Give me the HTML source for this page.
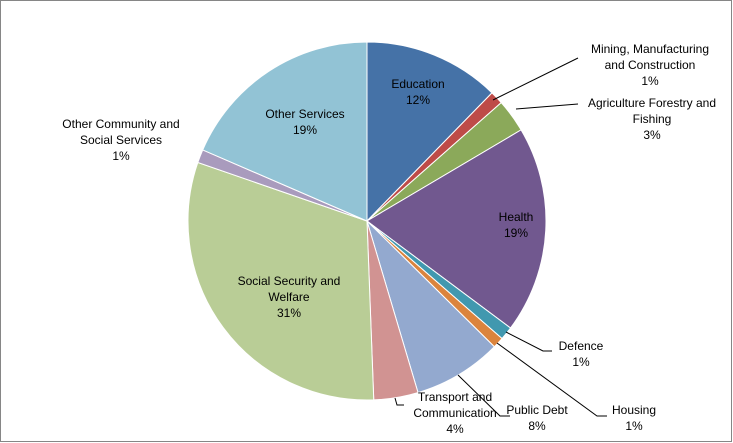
<!DOCTYPE html>
<html><head><meta charset="utf-8"><style>
html,body{margin:0;padding:0;background:#fff}
svg{display:block;font-family:"Liberation Sans",Arial,sans-serif;font-size:12px}
</style></head><body>
<svg id="chart" width="733" height="443" viewBox="0 0 733 443">
<rect x="0.5" y="0.5" width="731" height="441" fill="#fff" stroke="#868686"/>
<g id="slices"></g>
<g id="leaders" stroke="#000" stroke-width="1" fill="none"></g>
<g id="labels" fill="#000" text-anchor="middle"></g>
</svg>
<script>
const categories=["Education","Mining, Manufacturing and Construction","Agriculture Forestry and Fishing","Health","Defence","Housing","Public Debt","Transport and Communication","Social Security and Welfare","Other Community and Social Services","Other Services"];
const values=[12.3,1.2,3,18.7,1.2,1,8,4,30.9,1.2,18.5];
const pctLabels=["12%","1%","3%","19%","1%","1%","8%","4%","31%","1%","19%"];
const colors=["#4572A7","#BE4B48","#8BA95A","#71588F","#4198AF","#DB843D","#93A9CF","#D19392","#B9CD96","#A99BBD","#92C3D5"];
const labelLines=[["Education"],["Mining, Manufacturing","and Construction"],["Agriculture Forestry and","Fishing"],["Health"],["Defence"],["Housing"],["Public Debt"],["Transport and","Communication"],["Social Security and","Welfare"],["Other Community and","Social Services"],["Other Services"]];
const labelPos=[[418,86],[650,51],[652,105],[516,219],[581,348],[634,412],[537,412],[455,399],[289,283],[121,126],[305,116]];
const leaders=[null,"M493,100 L578,58",  "M516,109 L578,104",null,"M506,332 L543,351 L552,351","M497,343 L597,416 L607,416","M458,375 L500,416 L510,416","M395,398 L397,405 L404,405",null,null,null];
const cx=367,cy=221,r=179;
const NS="http://www.w3.org/2000/svg";
const total=values.reduce((a,b)=>a+b,0);
function pt(a){return [cx+r*Math.sin(a),cy-r*Math.cos(a)];}
let acc=0;
const gS=document.getElementById('slices'),gL=document.getElementById('leaders'),gT=document.getElementById('labels');
values.forEach((v,i)=>{
  const a0=acc/total*2*Math.PI;acc+=v;const a1=acc/total*2*Math.PI;
  const p0=pt(a0),p1=pt(a1);
  const p=document.createElementNS(NS,'path');
  p.setAttribute('d',`M${cx},${cy} L${p0[0]},${p0[1]} A${r},${r} 0 ${a1-a0>Math.PI?1:0} 1 ${p1[0]},${p1[1]} Z`);
  p.setAttribute('fill',colors[i]);
  p.setAttribute('stroke','#fff');p.setAttribute('stroke-width','1');
  
  
  gS.appendChild(p);
  if(leaders[i]){
    const l=document.createElementNS(NS,'path');l.setAttribute('d',leaders[i]);
    
    
    gL.appendChild(l);
  }
  const t=document.createElementNS(NS,'text');
  
  
  const lines=labelLines[i].concat([pctLabels[i]]);
  lines.forEach((s,k)=>{const ts=document.createElementNS(NS,'tspan');ts.setAttribute('x',labelPos[i][0]);ts.setAttribute('y',labelPos[i][1]+k*16+2);ts.textContent=s;t.appendChild(ts);});
  gT.appendChild(t);
});
</script>
</body></html>
